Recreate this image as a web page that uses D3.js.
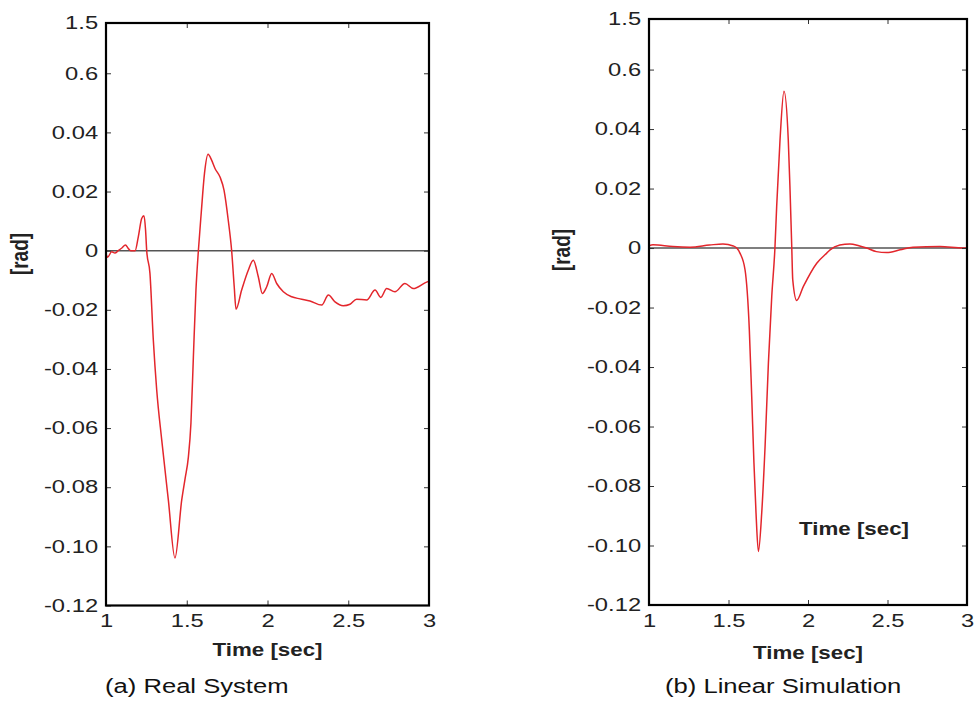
<!DOCTYPE html>
<html>
<head>
<meta charset="utf-8">
<script src="https://cdn.jsdelivr.net/npm/d3@7"></script>
<style>
    body { margin: 0; background: #fff; }
    svg { display: block; }
    .tick text { fill: #222; }
</style>
</head>
<body>
<svg id="chart"></svg>
<script>
// (a) real system response
var realTime = [1.000, 1.010, 1.035, 1.055, 1.076, 1.100, 1.120, 1.140, 1.153, 1.180, 1.200, 1.221, 1.235, 1.245, 1.252,
    1.272, 1.293, 1.314, 1.345, 1.386, 1.427, 1.469, 1.490, 1.510, 1.526, 1.541, 1.557, 1.572, 1.590, 1.610,
    1.632, 1.654, 1.675, 1.706, 1.731, 1.757, 1.778, 1.794, 1.805, 1.840, 1.881, 1.912, 1.943, 1.968, 1.995,
    2.026, 2.057, 2.098, 2.150, 2.201, 2.263, 2.336, 2.377, 2.418, 2.469, 2.511, 2.552, 2.614, 2.666, 2.701,
    2.738, 2.789, 2.851, 2.903, 2.975, 3.000];
var realAngle = [-0.0010, -0.0022, -0.0004, -0.0008, 0.0000, 0.0010, 0.0019, 0.0006, 0.0000, 0.0000, 0.0047, 0.0109, 0.0118, 0.0070, 0.0000,
    -0.0076, -0.0302, -0.0471, -0.0640, -0.0843, -0.1039, -0.0843, -0.0770, -0.0698, -0.0583, -0.0360, -0.0133, 0.0000, 0.0130, 0.0262,
    0.0326, 0.0306, 0.0278, 0.0249, 0.0204, 0.0103, 0.0000, -0.0122, -0.0198, -0.0133, -0.0066, -0.0032, -0.0088, -0.0145, -0.0122,
    -0.0077, -0.0111, -0.0139, -0.0156, -0.0163, -0.0170, -0.0184, -0.0150, -0.0173, -0.0186, -0.0181, -0.0164, -0.0167, -0.0133, -0.0158,
    -0.0128, -0.0139, -0.0111, -0.0128, -0.0109, -0.0103];

// (b) linear simulation response
var simTime = [1.000, 1.025, 1.150, 1.258, 1.380, 1.465, 1.530, 1.552, 1.572, 1.604, 1.631, 1.646, 1.660, 1.673, 1.688,
    1.709, 1.730, 1.751, 1.772, 1.792, 1.803, 1.824, 1.849, 1.876, 1.887, 1.898, 1.904, 1.929, 1.971, 2.055,
    2.118, 2.139, 2.200, 2.264, 2.320, 2.369, 2.430, 2.495, 2.579, 2.660, 2.830, 2.975, 3.000];
var simAngle = [0.0008, 0.0011, 0.0005, 0.0003, 0.0010, 0.0014, 0.0007, 0.0000, -0.0017, -0.0073, -0.0275, -0.0499, -0.0722, -0.0890, -0.1020,
    -0.0890, -0.0667, -0.0386, -0.0163, 0.0000, 0.0140, 0.0363, 0.0527, 0.0363, 0.0196, 0.0000, -0.0106, -0.0176, -0.0129, -0.0051,
    -0.0017, -0.0006, 0.0010, 0.0014, 0.0008, 0.0000, -0.0012, -0.0015, -0.0006, 0.0003, 0.0005, 0.0000, 0.0000];

// axis ticks (the original figure has odd labels on the two top ticks)
var xTickValues = [1, 1.5, 2, 2.5, 3];
var xTickLabels = ["1", "1.5", "2", "2.5", "3"];
var yTickValues = [-0.12, -0.10, -0.08, -0.06, -0.04, -0.02, 0, 0.02, 0.04, 0.06, 0.077];
var yTickLabels = ["-0.12", "-0.10", "-0.08", "-0.06", "-0.04", "-0.02", "0", "0.02", "0.04", "0.6", "1.5"];

var FONT = "'Liberation Sans', Arial, Helvetica, sans-serif";
var STRETCH = 1.32; // the source image is stretched horizontally

var svg = d3.select('#chart').attr("width", 976).attr("height", 702);

function drawPanel(options, times, values) {
    var width = options.right - options.left;
    var height = options.bottom - options.top;

    var xScale = d3.scaleLinear().domain([1, 3]).range([0, width]);
    var yScale = d3.scaleLinear().domain([-0.12, 0.077]).range([height, 0]);

    var g = svg.append("g").attr("transform", "translate(" + options.left + "," + options.top + ")");

    // zero reference line
    g.append("line")
        .attr("x1", 0).attr("x2", width)
        .attr("y1", yScale(0)).attr("y2", yScale(0))
        .attr("stroke", "#555")
        .attr("stroke-width", 1.6);

    // response curve
    var line = d3.line()
        .x(function (d) { return xScale(d[0]); })
        .y(function (d) { return yScale(d[1]); })
        .curve(d3.curveMonotoneX);
    g.append("path")
        .datum(d3.zip(times, values))
        .attr("fill", "none")
        .attr("stroke", "#e3262c")
        .attr("stroke-width", 1.5)
        .attr("d", line);

    // axes, ticks point inwards
    var yLabel = function (d) { return yTickLabels[yTickValues.indexOf(d)]; };
    var xLabel = function (d) { return xTickLabels[xTickValues.indexOf(d)]; };

    g.append("g")
        .call(d3.axisLeft(yScale).tickValues(yTickValues).tickFormat(yLabel)
            .tickSizeInner(-5).tickSizeOuter(0).tickPadding(6));
    g.append("g")
        .attr("transform", "translate(0," + height + ")")
        .call(d3.axisBottom(xScale).tickValues(xTickValues).tickFormat(xLabel)
            .tickSizeInner(-5).tickSizeOuter(0).tickPadding(9));
    g.append("g")
        .attr("transform", "translate(" + width + ",0)")
        .call(d3.axisRight(yScale).tickValues(yTickValues.slice(1, -1)).tickFormat("")
            .tickSizeInner(-5).tickSizeOuter(0));
    g.append("g")
        .call(d3.axisTop(xScale).tickValues(xTickValues.slice(1, -1)).tickFormat("")
            .tickSizeInner(-5).tickSizeOuter(0));

    g.selectAll(".domain").remove();
    g.selectAll(".tick line").attr("stroke", "#333");
    g.selectAll(".tick text")
        .attr("font-family", FONT)
        .attr("font-size", "18px")
        .attr("transform", "scale(" + STRETCH + ",1)");

    // box
    g.append("rect")
        .attr("width", width).attr("height", height)
        .attr("fill", "none")
        .attr("stroke", "#000")
        .attr("stroke-width", 2.2);

    // x label
    svg.append("text")
        .text("Time [sec]")
        .attr("transform", "translate(" + (options.left + width / 2) + "," + options.xLabelY + ") scale(1.24,1)")
        .attr("text-anchor", "middle")
        .attr("font-family", FONT)
        .attr("font-weight", "bold")
        .attr("font-size", "18px")
        .attr("fill", "#222");

    // y label, rotated; its glyph height is stretched like the rest
    svg.append("text")
        .text("[rad]")
        .attr("transform", "translate(" + options.yLabelX + "," + options.yLabelY + ") rotate(-90) scale(1,1.25)")
        .attr("text-anchor", "middle")
        .attr("font-family", FONT)
        .attr("font-weight", "bold")
        .attr("font-size", "19px")
        .attr("fill", "#222");

    // caption
    svg.append("text")
        .text(options.caption)
        .attr("transform", "translate(" + options.captionX + ",693) scale(1.22,1)")
        .attr("font-family", FONT)
        .attr("font-size", "21px")
        .attr("fill", "#111");

    return { g: g, xScale: xScale, yScale: yScale };
}

drawPanel({ left: 106, right: 429, top: 23, bottom: 605.5, xLabelY: 656, yLabelX: 28, yLabelY: 254,
    caption: "(a) Real System", captionX: 105 }, realTime, realAngle);

drawPanel({ left: 649, right: 967, top: 19, bottom: 605, xLabelY: 659, yLabelX: 570, yLabelY: 250,
    caption: "(b) Linear Simulation", captionX: 665 }, simTime, simAngle);

// stray x label inside the second panel
svg.append("text")
    .text("Time [sec]")
    .attr("transform", "translate(854,535) scale(1.24,1)")
    .attr("text-anchor", "middle")
    .attr("font-family", FONT)
    .attr("font-weight", "bold")
    .attr("font-size", "18px")
    .attr("fill", "#222");
</script>
</body>
</html>
